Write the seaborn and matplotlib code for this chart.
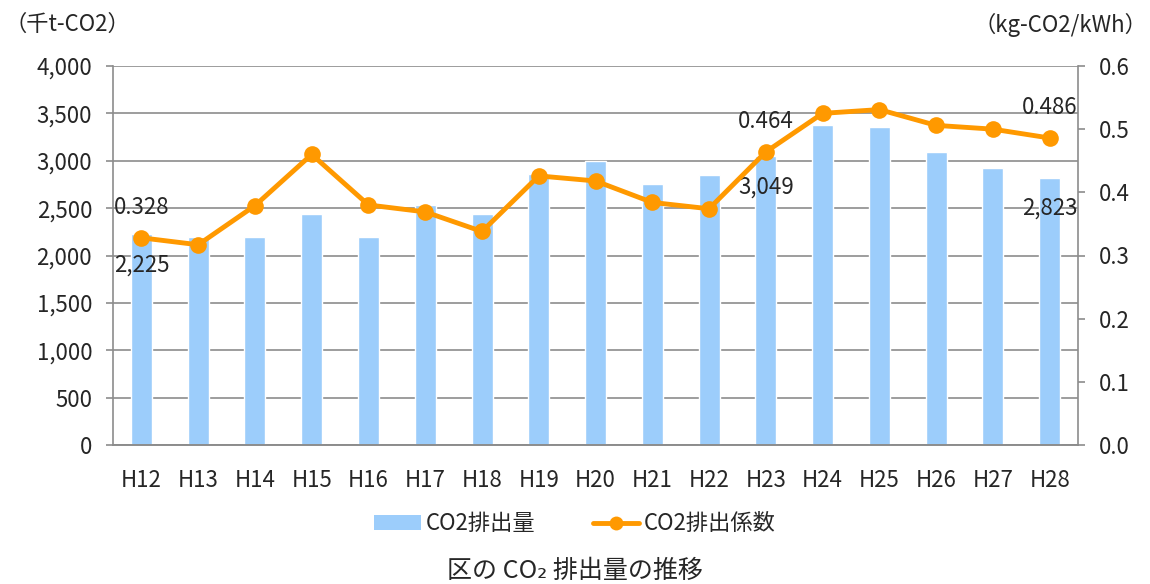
import numpy as np
import pandas as pd
import matplotlib
matplotlib.use("Agg")
import matplotlib.pyplot as plt
import seaborn as sns
from matplotlib.patches import Patch
from matplotlib.lines import Line2D

# データ
years = ["H12", "H13", "H14", "H15", "H16", "H17", "H18", "H19", "H20",
         "H21", "H22", "H23", "H24", "H25", "H26", "H27", "H28"]
emissions = [2225, 2195, 2190, 2437, 2191, 2528, 2437, 2862, 2995,
             2750, 2848, 3049, 3376, 3355, 3092, 2920, 2823]
factors = [0.328, 0.317, 0.379, 0.460, 0.380, 0.369, 0.338, 0.426, 0.418,
           0.384, 0.374, 0.464, 0.525, 0.531, 0.506, 0.500, 0.486]
labelled = [0, 11, 16]  # 数値ラベルを付ける年

BAR_COLOR = "#9ccdfb"
LINE_COLOR = "#ff9900"
GRID_COLOR = "#8c8c8c"
FS = 16

sns.set_style("white")
plt.rcParams["font.family"] = ["Noto Sans CJK JP", "DejaVu Sans"]

df = pd.DataFrame({"year": years, "emission": emissions, "factor": factors,
                   "pos": np.arange(len(years))})

fig = plt.figure(figsize=(11.5, 5.84), dpi=100)
ax = fig.add_axes([0.0983, 0.238, 0.8391, 0.649])

sns.barplot(data=df, x="year", y="emission", color=BAR_COLOR, width=0.37,
            saturation=1, ax=ax, zorder=2)
ax.set_ylim(0, 4000)
ax.set_yticks(np.arange(0, 4001, 500))
ax.set_yticklabels([f"{v:,}" for v in range(0, 4001, 500)])
ax.yaxis.grid(True, color=GRID_COLOR, lw=1.2, zorder=0)
ax.set_axisbelow(True)
ax.set_xlim(-0.5, len(years) - 0.5)
ax.set_xlabel("")
ax.set_ylabel("")

ax2 = ax.twinx()
sns.lineplot(data=df, x="pos", y="factor", color=LINE_COLOR, lw=3.5,
             marker="o", markersize=12, markeredgewidth=0, ax=ax2, zorder=3)
ax2.set_ylim(0, 0.6)
ax2.set_yticks(np.arange(0, 0.61, 0.1))
ax2.set_yticklabels([f"{v:.1f}" for v in np.arange(0, 0.61, 0.1)])
ax2.set_ylabel("")
ax2.set_xlabel("")
ax2.set_xlim(-0.5, len(years) - 0.5)

for a in (ax, ax2):
    a.spines["top"].set_visible(False)
    for side in ("left", "right", "bottom"):
        a.spines[side].set_color(GRID_COLOR)
        a.spines[side].set_linewidth(1.2)
    a.tick_params(axis="y", length=5, width=1.2, color=GRID_COLOR,
                  labelsize=FS, pad=10)
ax.tick_params(axis="x", length=0, labelsize=FS, pad=17)
ax.spines["right"].set_visible(False)
ax2.spines["left"].set_visible(False)

# データラベル
for i in labelled:
    ax2.annotate(f"{factors[i]:.3f}", (i, factors[i]), xytext=(0, 22),
                 textcoords="offset points", ha="center", va="center",
                 fontsize=FS)
    ax.annotate(f"{emissions[i]:,}", (i, emissions[i]), xytext=(0, -22),
                textcoords="offset points", ha="center", va="center",
                fontsize=FS)

# 単位
fig.text(0.004, 0.958, "（千t-CO2）", fontsize=FS, ha="left", va="center")
fig.text(0.998, 0.958, "（kg-CO2/kWh）", fontsize=FS, ha="right", va="center")

# 凡例
handles = [Patch(facecolor=BAR_COLOR, edgecolor="none"),
           Line2D([0], [0], color=LINE_COLOR, lw=3.5, marker="o",
                  markersize=10, markeredgewidth=0)]
fig.legend(handles, ["CO2排出量", "CO2排出係数"], loc="center",
           bbox_to_anchor=(0.5, 0.103), ncol=2, frameon=False, fontsize=FS,
           handlelength=2.1, columnspacing=2.6, handletextpad=0.2)

fig.text(0.5, 0.023, "区の CO₂ 排出量の推移", fontsize=18, ha="center", va="center")

fig.savefig("out.png", dpi=100)
